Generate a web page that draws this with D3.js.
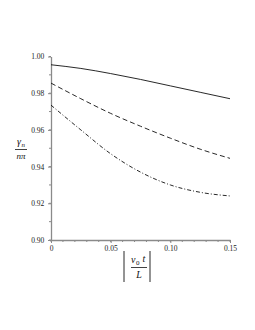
<!DOCTYPE html>
<html>
<head>
<meta charset="utf-8">
<script src="https://cdn.jsdelivr.net/npm/d3@7"></script>
<style>
  body { margin: 0; background: #fff; }
  svg text { font-family: "Liberation Serif", "DejaVu Serif", serif; }
</style>
</head>
<body>
<div id="chart"></div>
<script>
// values
var tValues = [0, 0.025, 0.05, 0.075, 0.1, 0.125, 0.15];
var solidValues = [0.9955, 0.9935, 0.9907, 0.9875, 0.984, 0.9805, 0.977];
var dashedValues = [0.9855, 0.977, 0.969, 0.962, 0.9555, 0.9495, 0.9445];
var dashDotValues = [0.9735, 0.960, 0.947, 0.937, 0.930, 0.926, 0.924];
var xTicks = [0, 0.05, 0.10, 0.15];
var yTicks = [0.90, 0.92, 0.94, 0.96, 0.98, 1.00];

var width = 255, height = 330;

var svg = d3.select("#chart").append("svg")
	.attr("width", width)
	.attr("height", height);

var x = d3.scaleLinear().domain([0, 0.15]).range([51, 230]);
var y = d3.scaleLinear().domain([0.90, 1.00]).range([240, 56.5]);

var axisColor = "#8a8a8a";

// minor ticks
var xMinor = d3.range(0, 0.1501, 0.01);
var yMinor = d3.range(0.90, 1.0001, 0.01);

svg.append("g").selectAll("line")
	.data(xMinor)
	.enter()
	.append("line")
	.attr("x1", function (d) { return x(d); })
	.attr("x2", function (d) { return x(d); })
	.attr("y1", 240)
	.attr("y2", 242)
	.attr("stroke", axisColor)
	.attr("stroke-width", 1);

svg.append("g").selectAll("line")
	.data(yMinor)
	.enter()
	.append("line")
	.attr("x1", 49)
	.attr("x2", 51)
	.attr("y1", function (d) { return y(d); })
	.attr("y2", function (d) { return y(d); })
	.attr("stroke", axisColor)
	.attr("stroke-width", 1);

// axes
var xAxis = d3.axisBottom(x).tickValues(xTicks).tickSize(3).tickSizeOuter(0)
	.tickFormat(function (d) { return d === 0 ? "0" : d3.format(".2f")(d); });
var yAxis = d3.axisLeft(y).tickValues(yTicks).tickSize(3).tickSizeOuter(0)
	.tickFormat(d3.format(".2f"));

var gx = svg.append("g").attr("transform", "translate(0,240)").call(xAxis);
var gy = svg.append("g").attr("transform", "translate(51,0)").call(yAxis);

[gx, gy].forEach(function (g) {
	g.select(".domain").attr("stroke", axisColor).attr("stroke-width", 1.3);
	g.selectAll(".tick line").attr("stroke", axisColor);
	g.selectAll(".tick text")
		.attr("fill", "#222")
		.attr("font-size", "7.5px")
		.attr("font-family", "Liberation Serif, serif");
});
gx.selectAll(".tick text").attr("dy", "0.6em");
gy.selectAll(".tick text").attr("dx", "-0.1em");

// curves
var line = d3.line()
	.x(function (d) { return x(d[0]); })
	.y(function (d) { return y(d[1]); })
	.curve(d3.curveMonotoneX);

var series = [
	{ vals: solidValues, dash: null },
	{ vals: dashedValues, dash: "5,3" },
	{ vals: dashDotValues, dash: "4,2,1,2" }
];

series.forEach(function (s) {
	svg.append("path")
		.datum(tValues.map(function (t, i) { return [t, s.vals[i]]; }))
		.attr("d", line)
		.attr("fill", "none")
		.attr("stroke", "#111")
		.attr("stroke-width", 0.9)
		.attr("stroke-dasharray", s.dash);
});

// y label: gamma_n / n pi
var yl = svg.append("g").attr("fill", "#111");
yl.append("text").attr("x", 17).attr("y", 145).attr("font-size", "10px").attr("font-style", "italic").text("γ");
yl.append("text").attr("x", 21.5).attr("y", 147).attr("font-size", "7px").attr("font-style", "italic").text("n");
yl.append("line").attr("x1", 15).attr("x2", 27).attr("y1", 149.5).attr("y2", 149.5).attr("stroke", "#111").attr("stroke-width", 0.8);
yl.append("text").attr("x", 21).attr("y", 159).attr("font-size", "9px").attr("font-style", "italic").attr("text-anchor", "middle").text("nπ");

// x label: |v_0 t / L|
var xl = svg.append("g").attr("fill", "#111");
xl.append("line").attr("x1", 124).attr("x2", 124).attr("y1", 251).attr("y2", 282).attr("stroke", "#111").attr("stroke-width", 0.9);
xl.append("line").attr("x1", 150).attr("x2", 150).attr("y1", 251).attr("y2", 282).attr("stroke", "#111").attr("stroke-width", 0.9);
xl.append("text").attr("x", 131).attr("y", 263).attr("font-size", "10px").attr("font-style", "italic").text("v");
xl.append("text").attr("x", 136).attr("y", 265).attr("font-size", "7px").text("0");
xl.append("text").attr("x", 142.5).attr("y", 262).attr("font-size", "10px").attr("font-style", "italic").text("t");
xl.append("line").attr("x1", 131).attr("x2", 147).attr("y1", 267.5).attr("y2", 267.5).attr("stroke", "#111").attr("stroke-width", 0.8);
xl.append("text").attr("x", 139).attr("y", 278).attr("font-size", "10px").attr("font-style", "italic").attr("text-anchor", "middle").text("L");
</script>
</body>
</html>
